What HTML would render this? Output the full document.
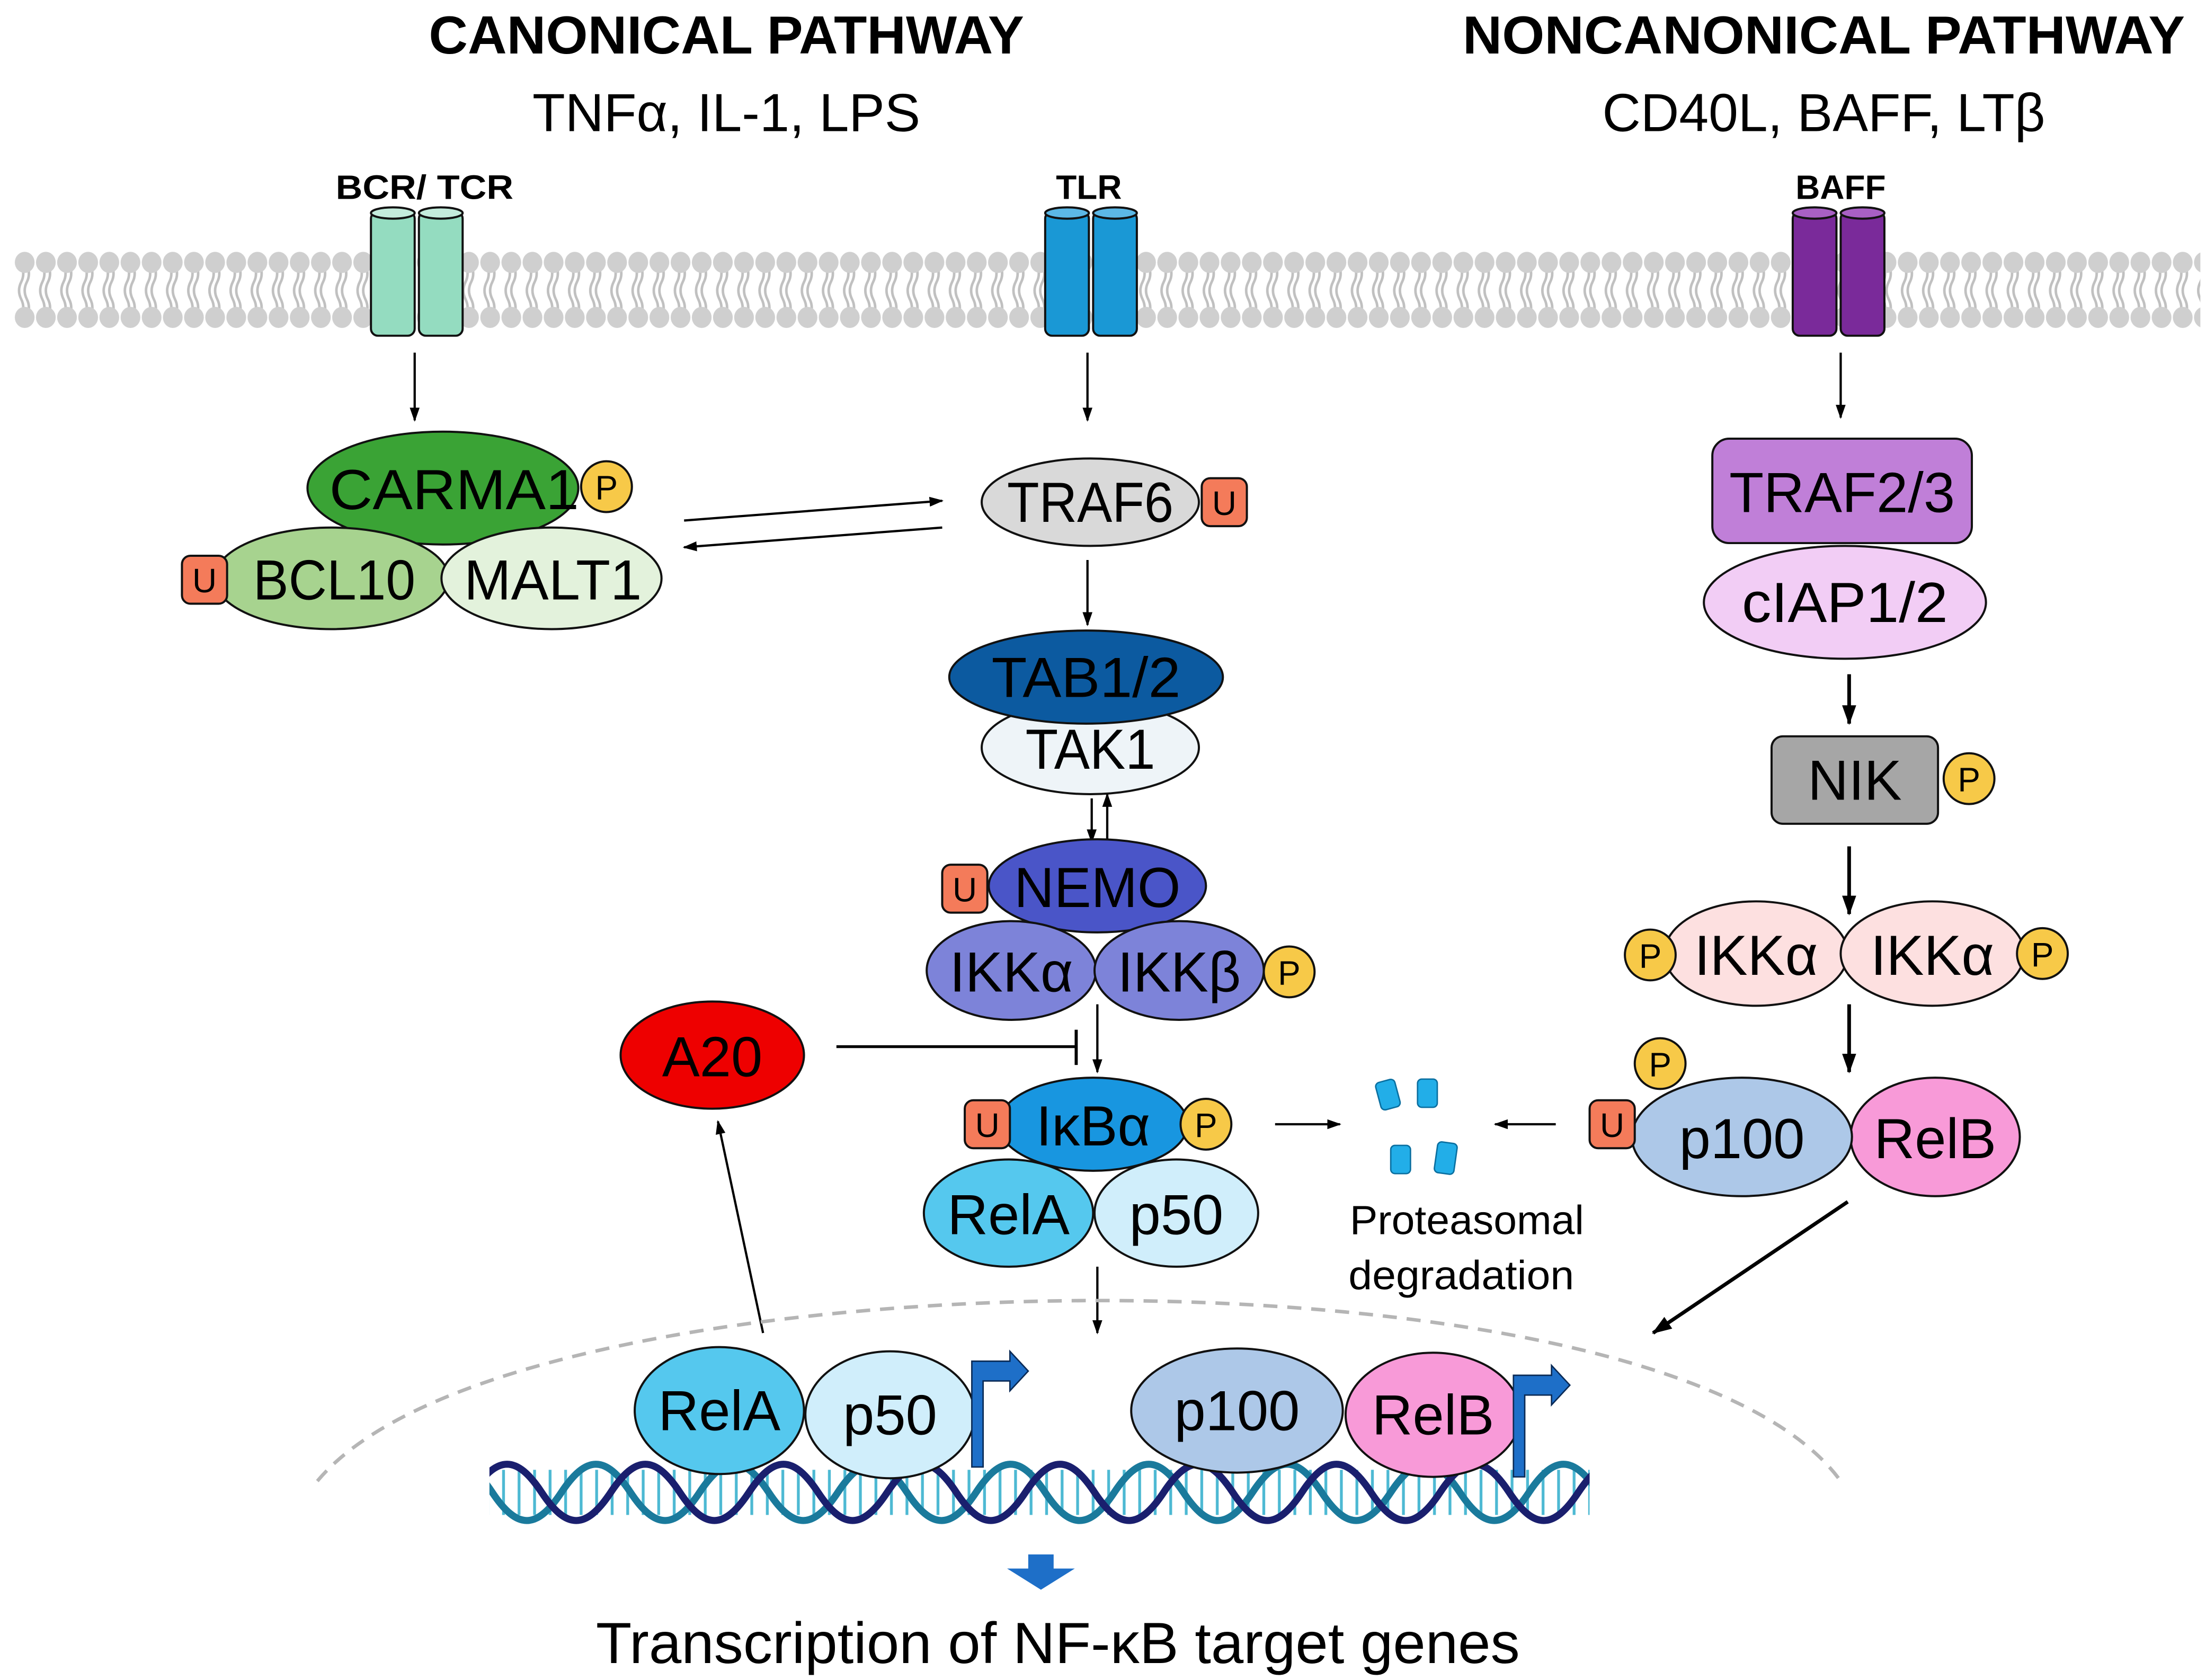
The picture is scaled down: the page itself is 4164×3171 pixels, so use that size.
<!DOCTYPE html>
<html><head><meta charset="utf-8"><style>
html,body{margin:0;padding:0;background:#fff}
svg{display:block}
text{font-family:"Liberation Sans",sans-serif;}
</style></head><body>
<svg width="4164" height="3171" viewBox="0 0 1564 1191" xmlns="http://www.w3.org/2000/svg">
<defs>
<marker id="ah" markerWidth="10" markerHeight="10" refX="9" refY="5" orient="auto" markerUnits="userSpaceOnUse"><path d="M0,1.5 L10,5 L0,8.5 Z" fill="#000"/></marker>
<marker id="ah2" markerWidth="14" markerHeight="12" refX="13" refY="6" orient="auto" markerUnits="userSpaceOnUse"><path d="M0,1 L14,6 L0,11 Z" fill="#000"/></marker>
<pattern id="lip" x="10" y="178" width="15" height="56" patternUnits="userSpaceOnUse">
<path d="M5,10 q3,6 0,12 q-3,6 0,12 q3,6 0,12 M9,10 q3,6 0,12 q-3,6 0,12 q3,6 0,12" stroke="#c0c0c0" stroke-width="1.8" fill="none"/>
<ellipse cx="7.5" cy="8" rx="7" ry="7.5" fill="#cfcfcf"/>
<ellipse cx="7.5" cy="47" rx="7" ry="7.5" fill="#cfcfcf"/>
</pattern>
<pattern id="rung" x="0" y="0" width="11" height="40" patternUnits="userSpaceOnUse">
<rect x="4" y="0" width="2" height="40" fill="#20a8c8"/>
</pattern>
<clipPath id="dnaclip"><rect x="347" y="1020" width="780" height="80"/></clipPath>
</defs>

<!-- titles -->
<text x="515" y="38" font-size="38" font-weight="bold" text-anchor="middle" textLength="422" lengthAdjust="spacingAndGlyphs">CANONICAL PATHWAY</text>
<text x="515" y="93" font-size="38" text-anchor="middle" textLength="275" lengthAdjust="spacingAndGlyphs">TNFα, IL-1, LPS</text>
<text x="1293" y="38" font-size="38" font-weight="bold" text-anchor="middle" textLength="512" lengthAdjust="spacingAndGlyphs">NONCANONICAL PATHWAY</text>
<text x="1293" y="93" font-size="38" text-anchor="middle" textLength="314" lengthAdjust="spacingAndGlyphs">CD40L, BAFF, LTβ</text>

<!-- membrane -->
<rect x="10" y="178" width="1550" height="56" fill="url(#lip)"/>

<!-- receptors -->
<g stroke="#111" stroke-width="1.5">
<g fill="#94dcc0"><rect x="263" y="150" width="31" height="88" rx="5"/><rect x="297" y="150" width="31" height="88" rx="5"/></g>
<g fill="#c4ecdc"><ellipse cx="278.5" cy="151" rx="15.5" ry="4"/><ellipse cx="312.5" cy="151" rx="15.5" ry="4"/></g>
<g fill="#1a98d5"><rect x="741" y="150" width="31" height="88" rx="5"/><rect x="775" y="150" width="31" height="88" rx="5"/></g>
<g fill="#5cb8e6"><ellipse cx="756.5" cy="151" rx="15.5" ry="4"/><ellipse cx="790.5" cy="151" rx="15.5" ry="4"/></g>
<g fill="#7a2a9a"><rect x="1271" y="150" width="31" height="88" rx="5"/><rect x="1305" y="150" width="31" height="88" rx="5"/></g>
<g fill="#a860c4"><ellipse cx="1286.5" cy="151" rx="15.5" ry="4"/><ellipse cx="1320.5" cy="151" rx="15.5" ry="4"/></g>
</g>
<text x="301" y="141" font-size="24" font-weight="bold" text-anchor="middle" textLength="126" lengthAdjust="spacingAndGlyphs">BCR/ TCR</text>
<text x="772" y="141" font-size="24" font-weight="bold" text-anchor="middle">TLR</text>
<text x="1305" y="141" font-size="24" font-weight="bold" text-anchor="middle">BAFF</text>

<!-- thin arrows -->
<g stroke="#000" stroke-width="1.6" fill="none" marker-end="url(#ah)">
<line x1="294" y1="250" x2="294" y2="298"/>
<line x1="771" y1="250" x2="771" y2="298"/>
<line x1="1305" y1="250" x2="1305" y2="296"/>
<line x1="485" y1="369" x2="668" y2="355"/>
<line x1="668" y1="374" x2="485" y2="388"/>
<line x1="771" y1="397" x2="771" y2="443"/>
<line x1="774" y1="566" x2="774" y2="597"/>
<line x1="785" y1="597" x2="785" y2="563"/>
<line x1="778" y1="712" x2="778" y2="760"/>
<line x1="904" y1="797" x2="950" y2="797"/>
<line x1="1103" y1="797" x2="1060" y2="797"/>
<line x1="778" y1="898" x2="778" y2="945"/>
<line x1="541" y1="945" x2="509" y2="795"/>
</g>
<g stroke="#000" stroke-width="2.6" fill="none" marker-end="url(#ah2)">
<line x1="1311" y1="478" x2="1311" y2="513"/>
<line x1="1311" y1="600" x2="1311" y2="648"/>
<line x1="1311" y1="712" x2="1311" y2="760"/>
<line x1="1310" y1="852" x2="1172" y2="945"/>
</g>
<line x1="593" y1="742" x2="763" y2="742" stroke="#000" stroke-width="2"/>
<line x1="763" y1="730" x2="763" y2="755" stroke="#000" stroke-width="2.2"/>

<g stroke="#111" stroke-width="1.5">
<ellipse cx="314" cy="346" rx="96" ry="40" fill="#3aa335"/>
<ellipse cx="235" cy="410" rx="83" ry="36" fill="#a7d38f"/>
<ellipse cx="391" cy="410" rx="78" ry="36" fill="#e3f2dc"/>
<ellipse cx="773" cy="356" rx="77" ry="31" fill="#d9d9d9"/>
<ellipse cx="773" cy="530" rx="77" ry="33" fill="#eef4f8"/>
<ellipse cx="770" cy="480" rx="97" ry="33" fill="#0c5aa0"/>
<ellipse cx="778" cy="628" rx="77" ry="33" fill="#4a55c8"/>
<ellipse cx="717" cy="688" rx="60" ry="35" fill="#7d83d9"/>
<ellipse cx="836" cy="688" rx="60" ry="35" fill="#7d83d9"/>
<ellipse cx="505" cy="748" rx="65" ry="38" fill="#ee0000"/>
<ellipse cx="715" cy="860" rx="60" ry="38" fill="#55c8ee"/>
<ellipse cx="834" cy="860" rx="58" ry="38" fill="#d0eefb"/>
<ellipse cx="775" cy="797" rx="67" ry="33" fill="#1896e0"/>
<ellipse cx="1308" cy="427" rx="100" ry="40" fill="#f2cdf5"/>
<rect x="1214" y="311" width="184" height="74" rx="12" fill="#c07fd8"/>
<rect x="1256" y="522" width="118" height="62" rx="8" fill="#a6a6a6"/>
<ellipse cx="1245" cy="676" rx="65" ry="37" fill="#fde0e0"/>
<ellipse cx="1370" cy="676" rx="65" ry="37" fill="#fde0e0"/>
<ellipse cx="1372" cy="806" rx="60" ry="42" fill="#f89ad8"/>
<ellipse cx="1235" cy="806" rx="78" ry="42" fill="#adc8e8"/>
<g fill="#f7c948">
<circle cx="430" cy="345" r="18"/><circle cx="914" cy="689" r="18"/><circle cx="855" cy="797" r="18"/>
<circle cx="1396" cy="552" r="18"/><circle cx="1170" cy="677" r="18"/><circle cx="1448" cy="676" r="18"/><circle cx="1177" cy="754" r="18"/>
</g>
<g fill="#f47b5a">
<rect x="129" y="394" width="32" height="34" rx="6"/><rect x="852" y="339" width="32" height="34" rx="6"/>
<rect x="668" y="613" width="32" height="34" rx="6"/><rect x="684" y="780" width="32" height="34" rx="6"/>
<rect x="1127" y="780" width="32" height="34" rx="6"/>
</g>
</g>
<g font-size="40" text-anchor="middle" lengthAdjust="spacingAndGlyphs">
<text x="322" y="361" textLength="177" lengthAdjust="spacingAndGlyphs">CARMA1</text>
<text x="237" y="425" textLength="115" lengthAdjust="spacingAndGlyphs">BCL10</text>
<text x="392" y="425" textLength="126" lengthAdjust="spacingAndGlyphs">MALT1</text>
<text x="773" y="370" textLength="118" lengthAdjust="spacingAndGlyphs">TRAF6</text>
<text x="770" y="494" textLength="134" lengthAdjust="spacingAndGlyphs">TAB1/2</text>
<text x="773" y="545" textLength="92" lengthAdjust="spacingAndGlyphs">TAK1</text>
<text x="778" y="643" textLength="118" lengthAdjust="spacingAndGlyphs">NEMO</text>
<text x="717" y="703">IKKα</text>
<text x="836" y="703">IKKβ</text>
<text x="505" y="763">A20</text>
<text x="775" y="812">IκBα</text>
<text x="715" y="875">RelA</text>
<text x="834" y="875">p50</text>
<text x="1306" y="363" textLength="160" lengthAdjust="spacingAndGlyphs">TRAF2/3</text>
<text x="1308" y="441" textLength="146" lengthAdjust="spacingAndGlyphs">cIAP1/2</text>
<text x="1315" y="567">NIK</text>
<text x="1245" y="691">IKKα</text>
<text x="1370" y="691">IKKα</text>
<text x="1235" y="821">p100</text>
<text x="1372" y="821">RelB</text>
</g>
<g font-size="24" text-anchor="middle">
<text x="430" y="354">P</text><text x="914" y="698">P</text><text x="855" y="806">P</text>
<text x="1396" y="561">P</text><text x="1170" y="686">P</text><text x="1448" y="685">P</text><text x="1177" y="763">P</text>
<text x="145" y="420">U</text><text x="868" y="365">U</text><text x="684" y="639">U</text><text x="700" y="806">U</text><text x="1143" y="806">U</text>
</g>

<g fill="#22aee8" stroke="#0a6fa0" stroke-width="1">
<rect x="977" y="766" width="14" height="20" rx="3" transform="rotate(-15 984 776)"/>
<rect x="1005" y="765" width="14" height="20" rx="3"/>
<rect x="986" y="812" width="14" height="20" rx="3"/>
<rect x="1018" y="810" width="14" height="22" rx="3" transform="rotate(8 1025 821)"/>
</g>
<text x="1040" y="875" font-size="29" text-anchor="middle" textLength="166" lengthAdjust="spacingAndGlyphs">Proteasomal</text>
<text x="1036" y="914" font-size="29" text-anchor="middle" textLength="160" lengthAdjust="spacingAndGlyphs">degradation</text>

<path d="M225,1050 C300,960 560,922 780,922 C1000,922 1240,960 1305,1050" fill="none" stroke="#b5b5b5" stroke-width="2.5" stroke-dasharray="10,7"/>

<g clip-path="url(#dnaclip)">
<rect x="347" y="1042" width="780" height="32" fill="url(#rung)" opacity="0.8"/>
<path d="M300,1058 c17.6,-26.6 31.4,-26.6 49,0 s31.4,26.6 49,0 c17.6,-26.6 31.4,-26.6 49,0 s31.4,26.6 49,0 c17.6,-26.6 31.4,-26.6 49,0 s31.4,26.6 49,0 c17.6,-26.6 31.4,-26.6 49,0 s31.4,26.6 49,0 c17.6,-26.6 31.4,-26.6 49,0 s31.4,26.6 49,0 c17.6,-26.6 31.4,-26.6 49,0 s31.4,26.6 49,0 c17.6,-26.6 31.4,-26.6 49,0 s31.4,26.6 49,0 c17.6,-26.6 31.4,-26.6 49,0 s31.4,26.6 49,0 c17.6,-26.6 31.4,-26.6 49,0 s31.4,26.6 49,0" fill="none" stroke="#1a7a9c" stroke-width="5"/>
<path d="M335,1058 c17.6,-26.6 31.4,-26.6 49,0 s31.4,26.6 49,0 c17.6,-26.6 31.4,-26.6 49,0 s31.4,26.6 49,0 c17.6,-26.6 31.4,-26.6 49,0 s31.4,26.6 49,0 c17.6,-26.6 31.4,-26.6 49,0 s31.4,26.6 49,0 c17.6,-26.6 31.4,-26.6 49,0 s31.4,26.6 49,0 c17.6,-26.6 31.4,-26.6 49,0 s31.4,26.6 49,0 c17.6,-26.6 31.4,-26.6 49,0 s31.4,26.6 49,0 c17.6,-26.6 31.4,-26.6 49,0 s31.4,26.6 49,0 c17.6,-26.6 31.4,-26.6 49,0 s31.4,26.6 49,0" fill="none" stroke="#1a1f6e" stroke-width="5"/>
</g>

<g stroke="#111" stroke-width="1.5">
<ellipse cx="510" cy="1000" rx="60" ry="45" fill="#55c8ee"/>
<ellipse cx="631" cy="1003" rx="60" ry="45" fill="#d0eefb"/>
<ellipse cx="877" cy="1000" rx="75" ry="44" fill="#adc8e8"/>
<ellipse cx="1016" cy="1003" rx="62" ry="44" fill="#f89ad8"/>
<path d="M689,1040 V965 H716 V958 L729,972 L716,986 V979 H697 V1040 Z" fill="#1e6fc8" stroke="#0a2a55" stroke-width="1"/>
<path d="M1073,1047 V975 H1100 V968 L1113,982 L1100,996 V989 H1081 V1047 Z" fill="#1e6fc8" stroke="#0a2a55" stroke-width="1"/>
</g>
<g font-size="40" text-anchor="middle">
<text x="510" y="1014">RelA</text>
<text x="631" y="1017">p50</text>
<text x="877" y="1014">p100</text>
<text x="1016" y="1017">RelB</text>
</g>

<path d="M729,1102 H747 V1112 H762 L738,1127 L714,1112 H729 Z" fill="#1e6fc8"/>
<text x="750" y="1179" font-size="41" text-anchor="middle" textLength="655" lengthAdjust="spacingAndGlyphs">Transcription of NF-κB target genes</text>
</svg>
</body></html>
